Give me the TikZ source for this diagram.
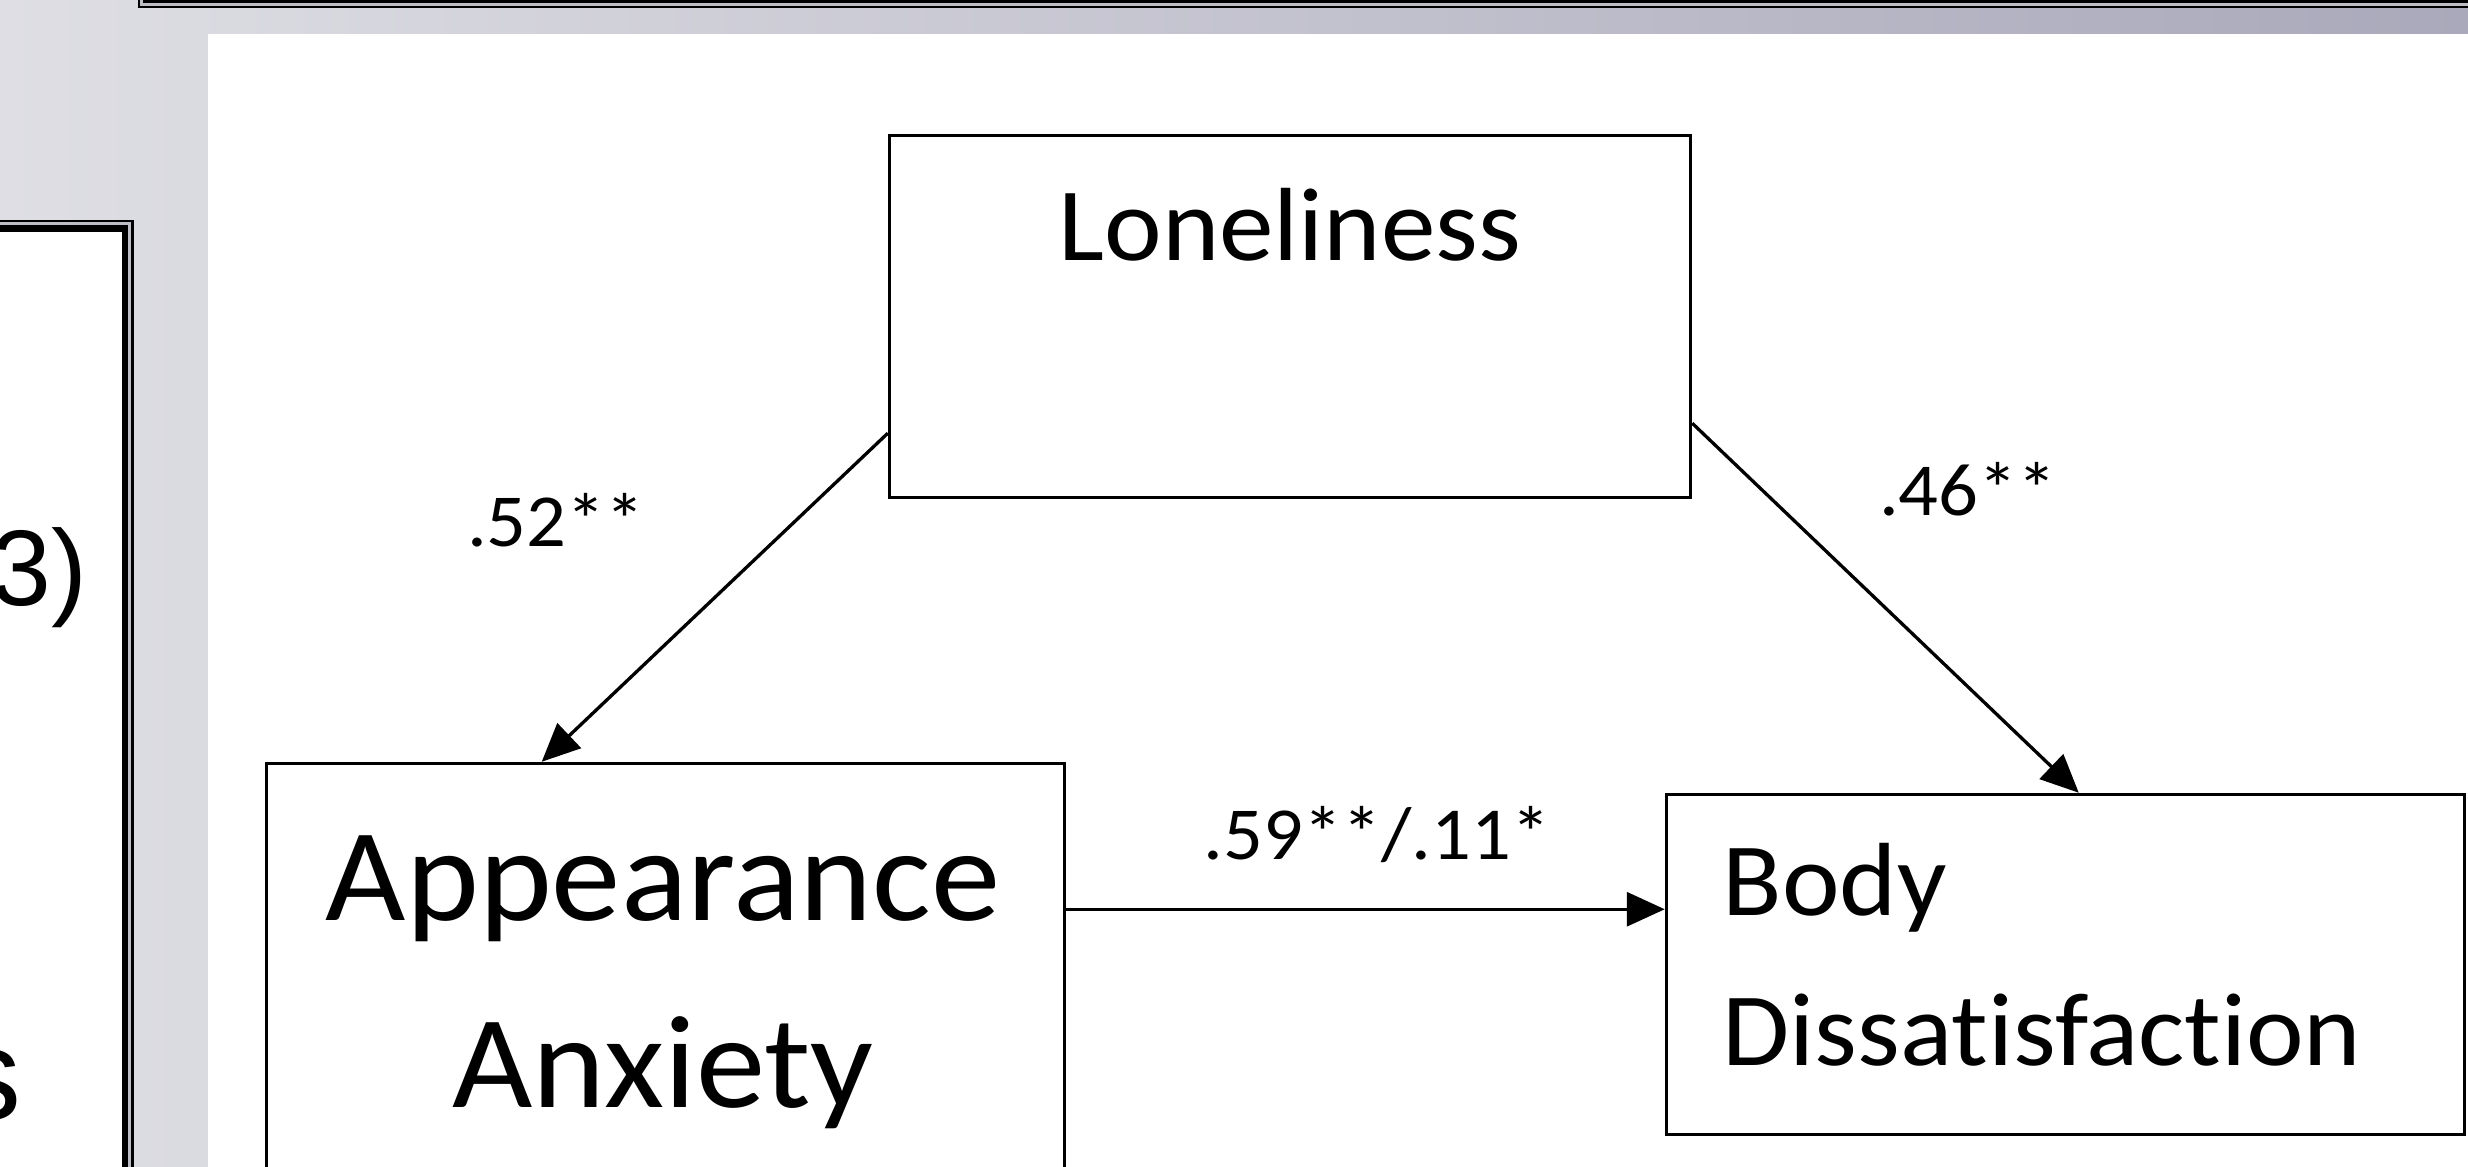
\documentclass[tikz,border=0pt]{standalone}
\usepackage{fontspec}
\setmainfont{Carlito}[FakeStretch=1.05, Ligatures=NoCommon]
\newfontfamily\slidefont{Liberation Sans}
\usetikzlibrary{arrows.meta}
\definecolor{bgLeft}{HTML}{DEDEE4}
\definecolor{bgRight}{HTML}{AAA9BB}
\definecolor{frameGray}{HTML}{BDBDC6}

\begin{document}
\begin{tikzpicture}[
    box/.style={draw, line width=0.035cm, inner sep=0pt},
    link/.style={line width=0.033cm, -{Triangle[length=0.38cm, width=0.34cm]}},
    coef/.style={font=\fontsize{21.3}{25}\selectfont, inner sep=0pt, anchor=base},
  ]
    \useasboundingbox (0,0) rectangle (24.68,-11.67);
    \clip (0,0) rectangle (24.68,-11.67);

    % Window background
    \shade[left color=bgLeft, right color=bgRight] (0,0) rectangle (24.68,-11.67);
    \fill[white] (2.08,-0.34) rectangle (24.78,-11.8);

    % Frame above
    \fill[black] (1.38,0.1) rectangle (24.78,-0.08);
    \fill[frameGray] (1.40,0.1) rectangle (24.78,-0.057);
    \fill[black] (1.43,0.1) rectangle (24.78,-0.03);

    % Frame on the left
    \fill[black] (-0.1,-2.20) rectangle (1.34,-11.8);
    \fill[frameGray] (-0.1,-2.22) rectangle (1.31,-11.8);
    \fill[black] (-0.1,-2.25) rectangle (1.28,-11.8);
    \fill[white] (-0.1,-2.32) rectangle (1.22,-11.8);
    \node[font=\slidefont\fontsize{30.6}{36}\selectfont, anchor=base east, inner sep=0pt] (leftA) at (0.88,-6.06) {3)};
    \node[font=\slidefont\fontsize{37}{44}\selectfont, anchor=base east, inner sep=0pt] (leftB) at (0.22,-11.19) {s};

    % Boxes
    \node[box, minimum width=8.01cm, minimum height=3.62cm] (lon) at (12.90,-3.165) {};
    \node[box, minimum width=7.98cm, minimum height=5.37cm] (aa) at (6.655,-10.32) {};
    \node[box, minimum width=7.98cm, minimum height=3.40cm] (bd) at (20.655,-9.645) {};

    % Box texts (base = last line)
    \node[font=\fontsize{29.6}{35}\selectfont, inner sep=0pt, anchor=base] (lonText) at (12.90,-2.61) {Loneliness};
    \node[font=\fontsize{37.6}{53.2}\selectfont, inner sep=0pt, align=center, anchor=base] (aaText) at (6.63,-11.07) {Appearance\\Anxiety};
    \node[font=\fontsize{29.6}{42.4}\selectfont, inner sep=0pt, align=left, anchor=base west] (bdText) at (17.22,-10.65) {Body\\Dissatisfaction};

    % Paths
    \draw[link] ([yshift=0.66cm]lon.south west) -- ([xshift=2.77cm]aa.north west);
    \draw[link] ([yshift=0.76cm]lon.south east) -- ([xshift=4.14cm]bd.north west);
    \draw[link] ([yshift=-1.475cm]aa.north east) coordinate (aaOut) -- (aaOut -| bd.west);

    % Coefficients
    \node[coef] (c1) at (5.56,-5.47) {.52**};
    \node[coef] (c2) at (19.68,-5.16) {.46**};
    \node[coef] (c3) at (13.77,-8.59) {.59**/.11*};
\end{tikzpicture}
\end{document}
